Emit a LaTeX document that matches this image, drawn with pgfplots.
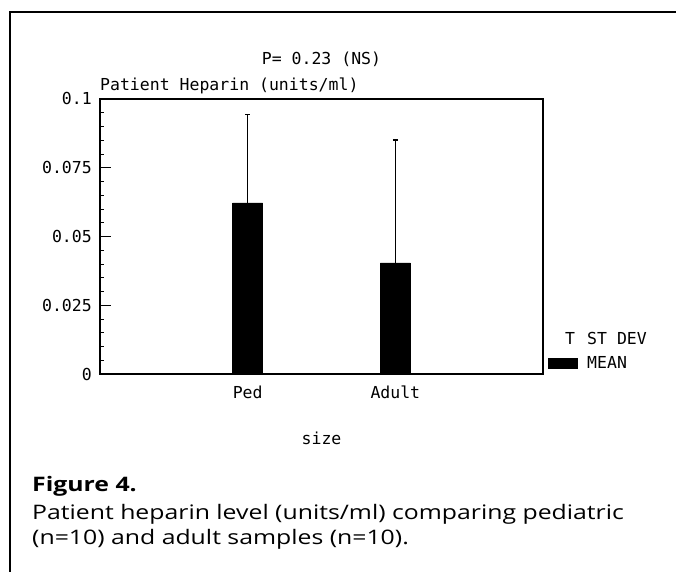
\documentclass[border=0pt]{standalone}
\usepackage{pgfplots}
\pgfplotsset{compat=1.18}
\usepackage{fontspec}
\setmainfont{Open Sans}
\newfontfamily\capfont[FakeStretch=1.24]{Open Sans}
\newfontfamily\plotfont{DejaVu Sans Mono}
\newcommand{\pf}{\plotfont\fontsize{16.5bp}{18bp}\selectfont}
\begin{document}
\begin{tikzpicture}[x=1bp,y=1bp]
\useasboundingbox (0,0) rectangle (676,572);
\draw[line width=1.6bp] (10,0) -- (10,560) -- (676,560);
\begin{axis}[
  at={(100bp,198bp)}, anchor=south west,
  width=443bp, height=275bp, scale only axis,
  xmin=0, xmax=3, ymin=0, ymax=0.1,
  axis line style={line width=1.4bp},
  xtick={1,2}, xticklabels={Ped,Adult},
  x tick style={draw=none},
  ytick={0,0.025,0.05,0.075,0.1},
  yticklabels={0,0.025,0.05,0.075,0.1},
  minor y tick num=4,
  tick align=inside,
  ytick pos=left,
  major tick length=11bp, minor tick length=4bp,
  y tick style={line width=0.9bp, black},
  tick label style={font=\pf, inner sep=0pt},
  yticklabel style={anchor=east, xshift=-8bp},
  xticklabel style={anchor=north, yshift=-12bp},
  xlabel={size},
  xlabel style={font=\pf, at={(axis description cs:0.5,0)}, anchor=base, yshift=-71bp},
  ylabel={Patient Heparin (units/ml)},
  ylabel style={font=\pf, rotate=-90, at={(axis description cs:0,1)}, anchor=base west, yshift=8bp, inner sep=0pt},
  title={P= 0.23 (NS)},
  title style={font=\pf, at={(axis description cs:0.5,1)}, anchor=base, yshift=29bp, inner sep=0pt},
  clip=false,
]
\addplot[ybar, bar width=30bp, fill=black, draw=black,
  error bars/.cd, y dir=plus, y explicit,
  error bar style={line width=0.8bp, black},
  error mark options={line width=1.2bp, mark size=2.5bp, rotate=90}]
  coordinates {(1,0.0622) +- (0,0.0323) (2,0.0404) +- (0,0.0447)};
\end{axis}
\node[font=\pf, anchor=base west, inner sep=0pt] at (565,227) {T};
\node[font=\pf, anchor=base west, inner sep=0pt] at (587,227) {ST DEV};
\fill[black] (548,203) rectangle (578,214);
\node[font=\pf, anchor=base west, inner sep=0pt] at (587,203) {MEAN};
\node[anchor=base west, inner sep=0pt, font=\capfont\fontsize{20bp}{22bp}\selectfont\bfseries] at (32,80) {Figure 4.};
\node[anchor=base west, inner sep=0pt, font=\capfont\fontsize{20bp}{22bp}\selectfont] at (32,52) {Patient heparin level (units/ml) comparing pediatric};
\node[anchor=base west, inner sep=0pt, font=\capfont\fontsize{20bp}{22bp}\selectfont] at (32,27) {(n=10) and adult samples (n=10).};
\end{tikzpicture}
\end{document}
